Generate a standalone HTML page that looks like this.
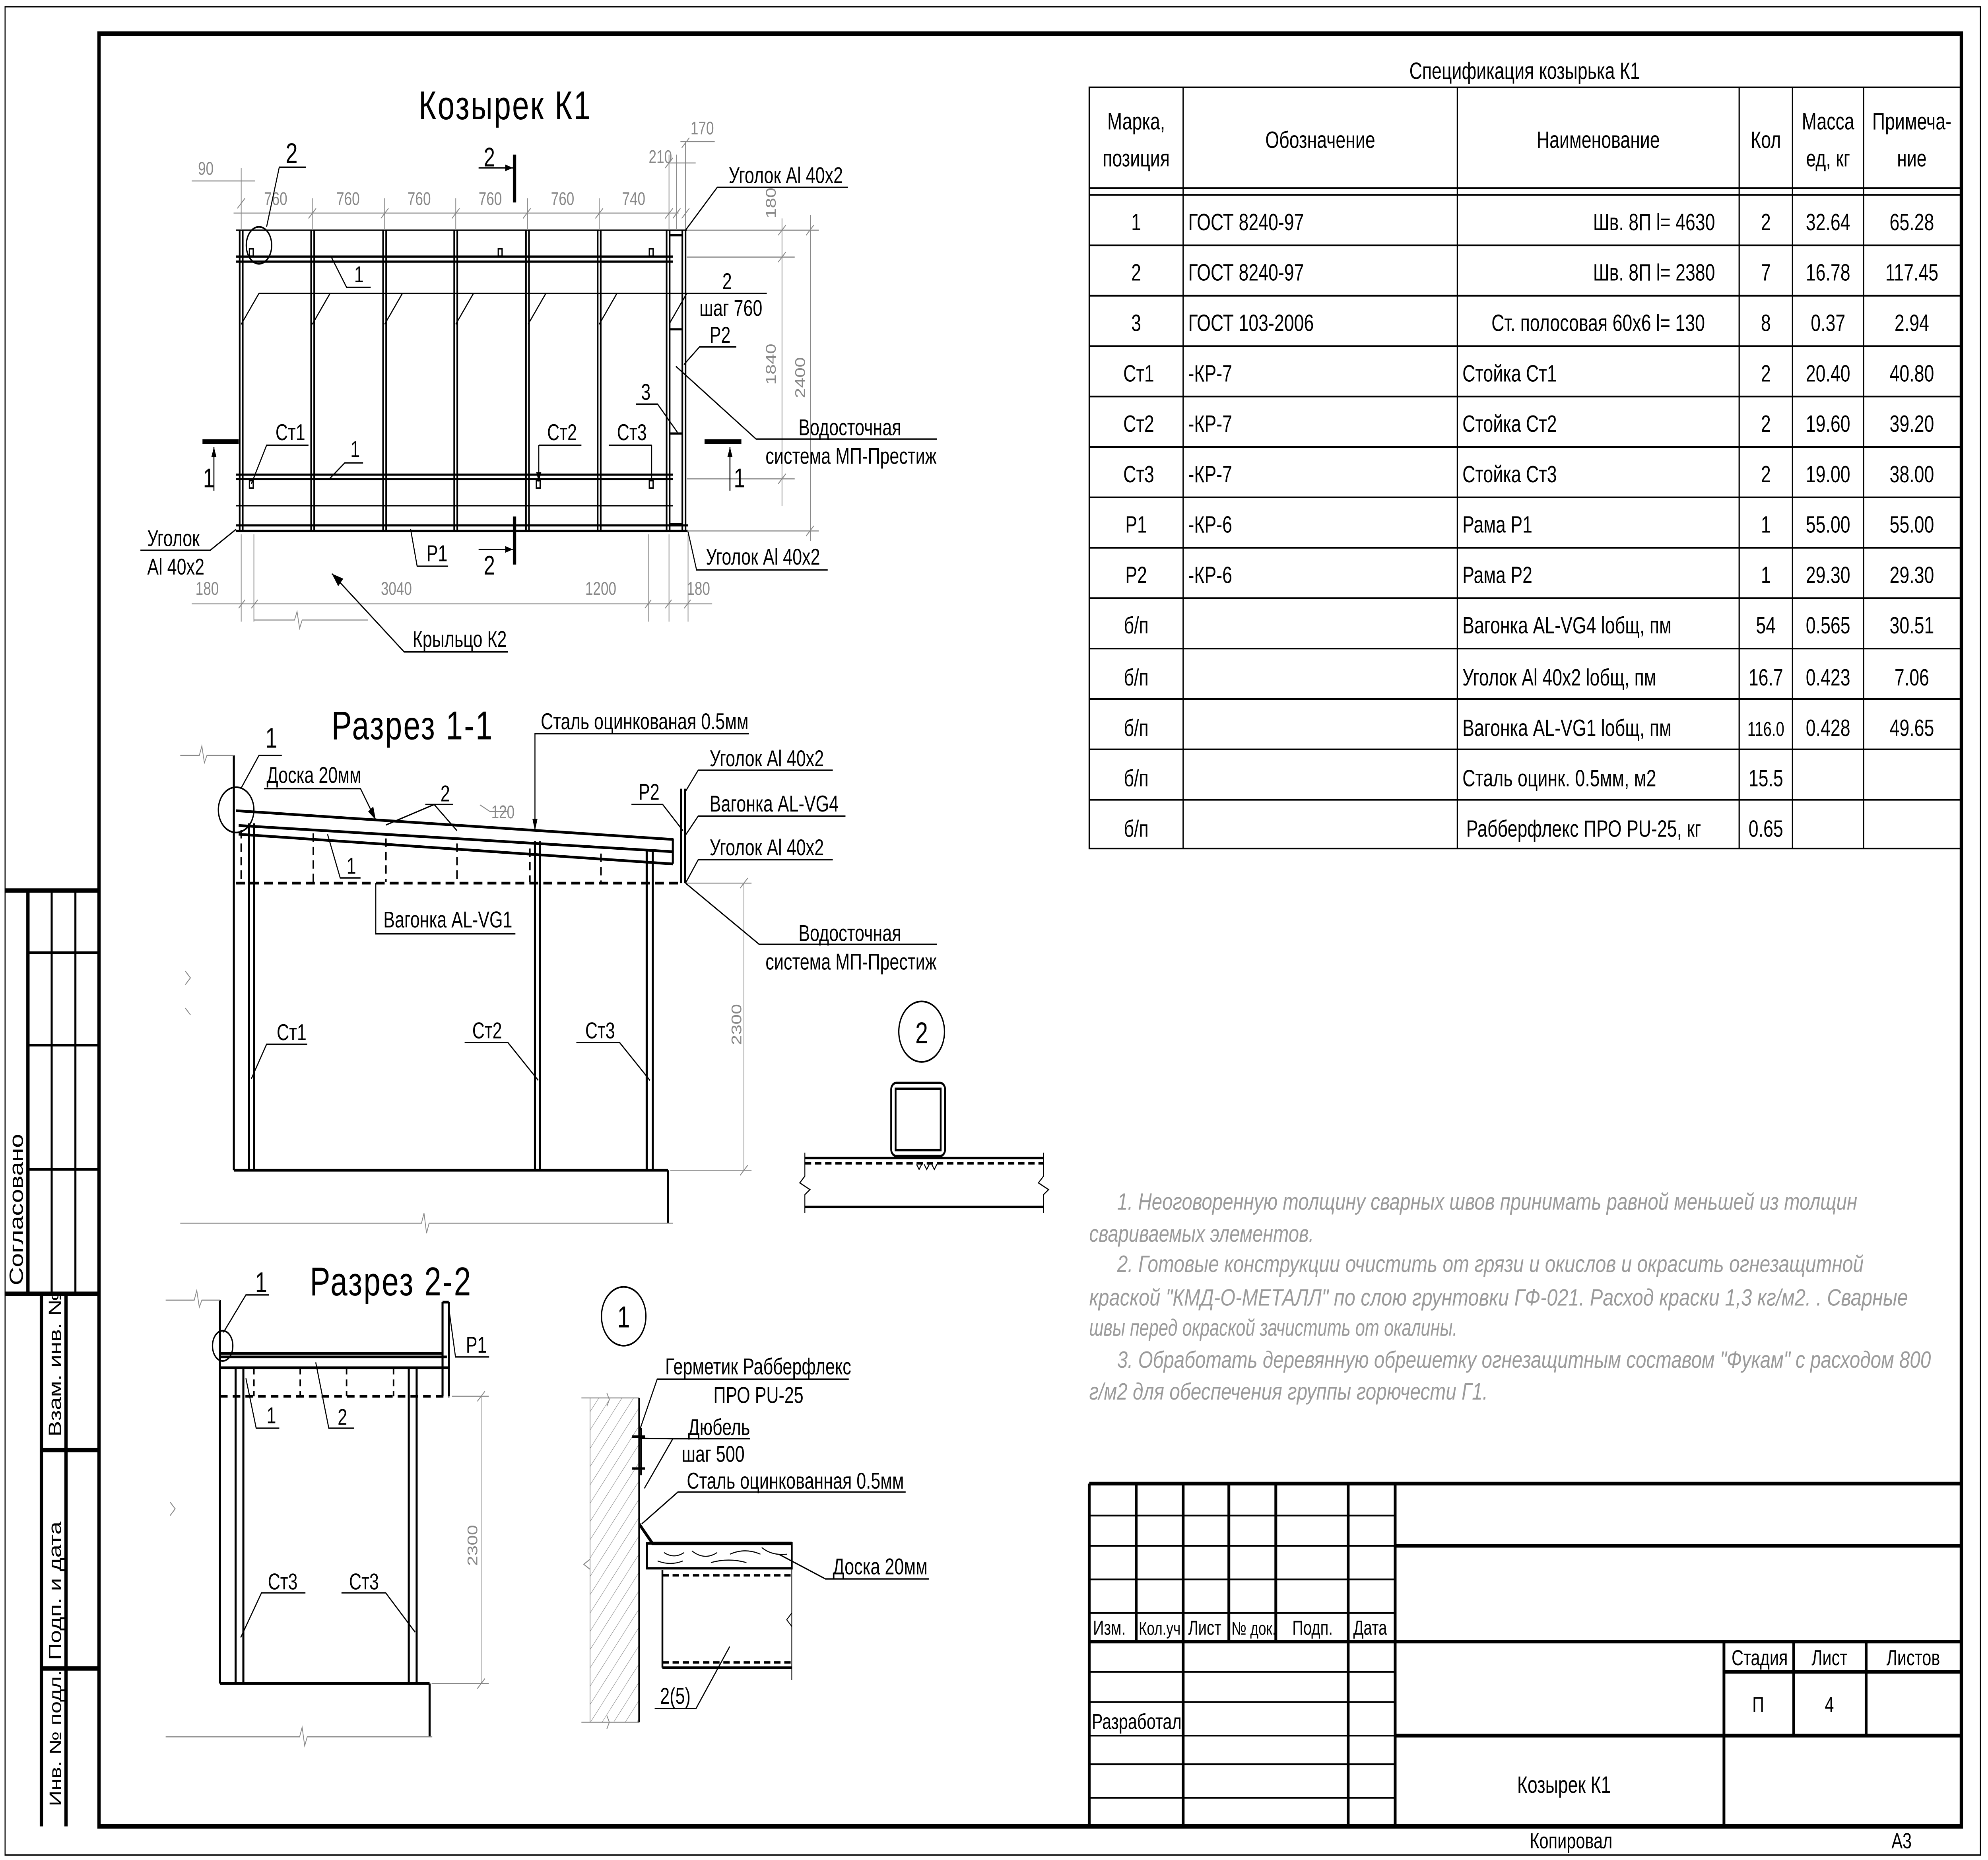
<!DOCTYPE html>
<html><head><meta charset="utf-8"><style>
html,body{margin:0;padding:0;background:#fff;width:100vw;height:100vh;overflow:hidden}
svg{display:block;width:100vw;height:100vh}
text{font-family:"Liberation Sans Narrow","Liberation Sans","DejaVu Sans",sans-serif;fill:#000}
.t{font-family:"Liberation Sans",sans-serif;font-size:14px}
.d{font-size:11px;fill:#888}
.l{font-size:13.5px}
.n{font-family:"Liberation Sans",sans-serif;font-size:14px;fill:#9a9a9a;font-style:italic}
</style></head><body>
<svg viewBox="0 0 1566 1107" preserveAspectRatio="none" xmlns="http://www.w3.org/2000/svg">
<defs>
<pattern id="h" width="7" height="7" patternUnits="userSpaceOnUse" patternTransform="rotate(40)"><line x1="0" y1="0" x2="0" y2="7" stroke="#888" stroke-width="0.6"/></pattern>
</defs>
<rect x="0" y="0" width="1566" height="1107" fill="#fff"/>
<rect x="4" y="4" width="1556" height="1100" fill="none" stroke="#000" stroke-width="0.8"/>
<g fill="none" stroke="#000" stroke-width="2.6">
<path d="M78 20 H1545 V1087 H78 Z"/>
<path d="M4 530 H78 M22 530 V770 M4 770 H78 M32.6 770 V1087 M52 770 V1087 M32.6 863 H78 M32.6 993 H78"/>
</g>
<g stroke="#000" stroke-width="1.6" fill="none">
<path d="M40.7 530 V770 M59.4 530 V770 M22 567 H78 M22 622 H78 M22 696 H78"/>
</g>
<text transform="translate(18,765) rotate(-90)" font-size="15">Согласовано</text>
<text transform="translate(48,855) rotate(-90)" font-size="14">Взам. инв. №</text>
<text transform="translate(48,988) rotate(-90)" font-size="14">Подп. и дата</text>
<text transform="translate(48,1075) rotate(-90)" font-size="13">Инв. № подл.</text>
<text x="1205" y="1100" font-size="13">Копировал</text>
<text x="1490" y="1100" font-size="13">А3</text>

<!-- Spec table -->
<g stroke="#000" stroke-width="1" fill="none">
<rect x="858" y="52" width="687" height="453"/>
<path d="M858 112 H1545 M858 116 H1545"/>
<path d="M932 52 V505 M1148 52 V505 M1370 52 V505 M1412 52 V505 M1468 52 V505"/>
<path d="M858 146 H1545 M858 176 H1545 M858 206 H1545 M858 236 H1545 M858 266 H1545 M858 296 H1545 M858 326 H1545 M858 356 H1545 M858 386 H1545 M858 416 H1545 M858 446 H1545 M858 476 H1545"/>
</g>
<g>
<text x="1201" y="47" text-anchor="middle" class="t">Спецификация козырька К1</text>
<text x="895" y="77" text-anchor="middle" class="t">Марка,</text>
<text x="895" y="99" text-anchor="middle" class="t">позиция</text>
<text x="1040" y="88" text-anchor="middle" class="t">Обозначение</text>
<text x="1259" y="88" text-anchor="middle" class="t">Наименование</text>
<text x="1391" y="88" text-anchor="middle" class="t">Кол</text>
<text x="1440" y="77" text-anchor="middle" class="t">Масса</text>
<text x="1440" y="99" text-anchor="middle" class="t">ед, кг</text>
<text x="1506" y="77" text-anchor="middle" class="t">Примеча-</text>
<text x="1506" y="99" text-anchor="middle" class="t">ние</text>
</g>
<g>
<text class="t" x="895" y="137" text-anchor="middle">1</text><text class="t" x="936" y="137">ГОСТ 8240-97</text><text class="t" x="1351" y="137" text-anchor="end">Шв. 8П l= 4630</text><text class="t" x="1391" y="137" text-anchor="middle">2</text><text class="t" x="1440" y="137" text-anchor="middle">32.64</text><text class="t" x="1506" y="137" text-anchor="middle">65.28</text>
<text class="t" x="895" y="167" text-anchor="middle">2</text><text class="t" x="936" y="167">ГОСТ 8240-97</text><text class="t" x="1351" y="167" text-anchor="end">Шв. 8П l= 2380</text><text class="t" x="1391" y="167" text-anchor="middle">7</text><text class="t" x="1440" y="167" text-anchor="middle">16.78</text><text class="t" x="1506" y="167" text-anchor="middle">117.45</text>
<text class="t" x="895" y="197" text-anchor="middle">3</text><text class="t" x="936" y="197">ГОСТ 103-2006</text><text class="t" x="1343" y="197" text-anchor="end">Ст. полосовая 60х6 l= 130</text><text class="t" x="1391" y="197" text-anchor="middle">8</text><text class="t" x="1440" y="197" text-anchor="middle">0.37</text><text class="t" x="1506" y="197" text-anchor="middle">2.94</text>
<text class="t" x="897" y="227" text-anchor="middle">Ст1</text><text class="t" x="936" y="227">-КР-7</text><text class="t" x="1152" y="227">Стойка Ст1</text><text class="t" x="1391" y="227" text-anchor="middle">2</text><text class="t" x="1440" y="227" text-anchor="middle">20.40</text><text class="t" x="1506" y="227" text-anchor="middle">40.80</text>
<text class="t" x="897" y="257" text-anchor="middle">Ст2</text><text class="t" x="936" y="257">-КР-7</text><text class="t" x="1152" y="257">Стойка Ст2</text><text class="t" x="1391" y="257" text-anchor="middle">2</text><text class="t" x="1440" y="257" text-anchor="middle">19.60</text><text class="t" x="1506" y="257" text-anchor="middle">39.20</text>
<text class="t" x="897" y="287" text-anchor="middle">Ст3</text><text class="t" x="936" y="287">-КР-7</text><text class="t" x="1152" y="287">Стойка Ст3</text><text class="t" x="1391" y="287" text-anchor="middle">2</text><text class="t" x="1440" y="287" text-anchor="middle">19.00</text><text class="t" x="1506" y="287" text-anchor="middle">38.00</text>
<text class="t" x="895" y="317" text-anchor="middle">Р1</text><text class="t" x="936" y="317">-КР-6</text><text class="t" x="1152" y="317">Рама Р1</text><text class="t" x="1391" y="317" text-anchor="middle">1</text><text class="t" x="1440" y="317" text-anchor="middle">55.00</text><text class="t" x="1506" y="317" text-anchor="middle">55.00</text>
<text class="t" x="895" y="347" text-anchor="middle">Р2</text><text class="t" x="936" y="347">-КР-6</text><text class="t" x="1152" y="347">Рама Р2</text><text class="t" x="1391" y="347" text-anchor="middle">1</text><text class="t" x="1440" y="347" text-anchor="middle">29.30</text><text class="t" x="1506" y="347" text-anchor="middle">29.30</text>
<text class="t" x="895" y="377" text-anchor="middle">б/п</text><text class="t" x="1152" y="377">Вагонка AL-VG4 lобщ, пм</text><text class="t" x="1391" y="377" text-anchor="middle">54</text><text class="t" x="1440" y="377" text-anchor="middle">0.565</text><text class="t" x="1506" y="377" text-anchor="middle">30.51</text>
<text class="t" x="895" y="408" text-anchor="middle">б/п</text><text class="t" x="1152" y="408">Уголок Al 40х2 lобщ, пм</text><text class="t" x="1391" y="408" text-anchor="middle">16.7</text><text class="t" x="1440" y="408" text-anchor="middle">0.423</text><text class="t" x="1506" y="408" text-anchor="middle">7.06</text>
<text class="t" x="895" y="438" text-anchor="middle">б/п</text><text class="t" x="1152" y="438">Вагонка AL-VG1 lобщ, пм</text><text x="1391" y="438" text-anchor="middle" style="font-family:'Liberation Sans';font-size:12px">116.0</text><text class="t" x="1440" y="438" text-anchor="middle">0.428</text><text class="t" x="1506" y="438" text-anchor="middle">49.65</text>
<text class="t" x="895" y="468" text-anchor="middle">б/п</text><text class="t" x="1152" y="468">Сталь оцинк. 0.5мм, м2</text><text class="t" x="1391" y="468" text-anchor="middle">15.5</text>
<text class="t" x="895" y="498" text-anchor="middle">б/п</text><text class="t" x="1155" y="498">Рабберфлекс ПРО PU-25, кг</text><text class="t" x="1391" y="498" text-anchor="middle">0.65</text>
</g>

<!-- Notes -->
<text class="n" x="880" y="720" textLength="583" lengthAdjust="spacingAndGlyphs">1. Неоговоренную толщину сварных швов принимать равной  меньшей из толщин</text>
<text class="n" x="858" y="739" textLength="177" lengthAdjust="spacingAndGlyphs">свариваемых элементов.</text>
<text class="n" x="880" y="757" textLength="588" lengthAdjust="spacingAndGlyphs">2. Готовые конструкции очистить от грязи и окислов и окрасить огнезащитной</text>
<text class="n" x="858" y="777" textLength="645" lengthAdjust="spacingAndGlyphs">краской "КМД-О-МЕТАЛЛ" по слою грунтовки ГФ-021. Расход краски 1,3 кг/м2. . Сварные</text>
<text class="n" x="858" y="795" textLength="290" lengthAdjust="spacingAndGlyphs">швы перед окраской зачистить от окалины.</text>
<text class="n" x="880" y="814" textLength="641" lengthAdjust="spacingAndGlyphs">3. Обработать деревянную обрешетку огнезащитным составом "Фукам" с расходом 800</text>
<text class="n" x="858" y="833" textLength="314" lengthAdjust="spacingAndGlyphs">г/м2 для обеспечения группы горючести Г1.</text>

<!-- Title block -->
<g stroke="#000" stroke-width="2.2" fill="none">
<path d="M858 883 H1545 M1099 883 V1087 M858 883 V1087 M858 977 H1545 M1099 920 H1545 M1358 977 V1087 M1413 977 V1033 M1470 977 V1033 M1358 995 H1545 M1099 1033 H1545"/>
<path d="M895 883 V977 M932 883 V1087 M968 883 V977 M1005 883 V977 M1062 883 V1087"/>
</g>
<g stroke="#000" stroke-width="1" fill="none">
<path d="M858 902 H1099 M858 920 H1099 M858 940 H1099 M858 960 H1099 M858 995 H1099 M858 1013 H1099 M858 1033 H1099 M858 1050 H1099 M858 1070 H1099"/>
</g>
<g font-size="12">
<text x="861" y="973">Изм.</text><text x="897" y="973" font-size="11">Кол.уч.</text><text x="936" y="973">Лист</text><text x="970" y="973" font-size="11">№ док.</text><text x="1018" y="973">Подп.</text><text x="1066" y="973">Дата</text>
<text x="860" y="1029" font-size="13">Разработал</text>
<text x="1364" y="991" font-size="13">Стадия</text><text x="1427" y="991" font-size="13">Лист</text><text x="1486" y="991" font-size="13">Листов</text>
<text x="1385" y="1019" font-size="13" text-anchor="middle">П</text><text x="1441" y="1019" font-size="13" text-anchor="middle">4</text>
<text x="1232" y="1067" class="t" text-anchor="middle">Козырек К1</text>
</g>

<!-- ===== PLAN ===== -->
<text x="398" y="71" font-size="24" text-anchor="middle" style="font-family:'Liberation Sans',sans-serif;letter-spacing:1px">Козырек К1</text>
<g stroke="#000" stroke-width="0.8" fill="none">
<path d="M186 137 H541 M186 301 H530"/>
</g>
<g stroke="#000" stroke-width="1.3" fill="none">
<path d="M186 152.7 H530 M186 155.7 H530 M186 282.5 H530 M186 285.2 H530 M186 312.7 H542 M186 316 H542"/>
<path d="M188.8 137 V316 M191.2 137 V316 M245.1 137 V316 M247.5 137 V316 M301.8 137 V316 M304.2 137 V316 M357.8 137 V316 M360.2 137 V316 M414.3 137 V316 M416.7 137 V316 M470.8 137 V316 M473.2 137 V316 M525.1 137 V316 M527.5 137 V316 M537.5 137 V316 M540 137 V316"/>
<path d="M527 140 H538 M527 196 H538 M527 258 H538 M527 312 H538"/>
</g>
<g fill="none" stroke="#000" stroke-width="1"><rect x="196.5" y="148" width="3" height="4.5"/><rect x="392.5" y="148" width="3" height="4.5"/><rect x="511.5" y="148" width="3" height="4.5"/><rect x="196.5" y="286" width="3" height="4.5"/><rect x="422.5" y="286" width="3" height="4.5"/><rect x="511.5" y="286" width="3" height="4.5"/></g>
<ellipse cx="204" cy="146" rx="10" ry="11" fill="none" stroke="#000" stroke-width="1"/>
<g stroke="#888" stroke-width="0.6" fill="none">
<path d="M151 107.7 H201 M190 100 V135 M184 126.8 H534.5 M190 118 V137 M246 118 V137 M303 118 V137 M359 118 V137 M415.5 118 V137 M472 118 V137 M527 92 V137 M533 92 V137 M540 84 V137 M527 97 H548 M536 84.3 H563"/>
<path d="M187 124 l6 -6 M243 130 l6 -6 M300 130 l6 -6 M356 130 l6 -6 M412 130 l6 -6 M469 130 l6 -6 M524 130 l6 -6 M530 130 l6 -6 M537 130 l6 -6 M524 100 l6 -6 M537 88 l6 -6"/>
<path d="M151 359.4 H561 M190 318 V370 M200 318 V370 M511 318 V370 M527 318 V370 M542 318 V370 M188 362 l5 -5 M198 362 l5 -5 M508 362 l5 -5 M524 362 l5 -5 M539 362 l5 -5"/>
<path d="M200 369 H232 L234 364 L236 374 L238 369 H290"/>
<path d="M541 137 H645 M541 153 H626 M541 316 H645 M541 285 H626 M616 130 V301 M638.4 128 V322 M613 140 l6 -6 M613 156 l6 -6 M613 288 l6 -6 M635 140 l6 -6 M635 319 l6 -6"/>
</g>
<g><text x="156" y="104" class="d">90</text><text x="208" y="122" class="d">760</text><text x="265" y="122" class="d">760</text><text x="321" y="122" class="d">760</text><text x="377" y="122" class="d">760</text><text x="434" y="122" class="d">760</text><text x="490" y="122" class="d">740</text><text x="511" y="97" class="d">210</text><text x="544" y="80" class="d">170</text>
<text x="154" y="354" class="d">180</text><text x="300" y="354" class="d">3040</text><text x="461" y="354" class="d">1200</text><text x="541" y="354" class="d">180</text>
<text class="d" transform="translate(611,130) rotate(-90)">180</text><text class="d" transform="translate(611,229) rotate(-90)">1840</text><text class="d" transform="translate(634,237) rotate(-90)">2400</text></g>
<g stroke="#000" stroke-width="0.8" fill="none">
<path d="M210 135 L220 99.5 H241"/>
<path d="M261 153 L273 171 H292"/>
<path d="M604 174.6 H204 M204 174.6 L190 193 M260 174.6 L246 193 M317 174.6 L303 193 M373 174.6 L359 193 M430 174.6 L416 193 M486 174.6 L472 193 M541 174.6 L527 193"/>
<path d="M538.7 217 L551 206.5 H580"/>
<path d="M198 288 L210 265 H243"/>
<path d="M260 284.6 L271.6 275.5 H286"/>
<path d="M424.4 265 V286 M424.4 265 H458 M513.3 265 V286 M479.5 265 H513.3"/>
<path d="M533.7 257.4 L518 240.5 H501"/>
<path d="M540 137 L565 111.5 H668"/>
<path d="M532.4 218 L595.6 261.3 H738"/>
<path d="M186 315 L165.6 327.5 H110.6"/>
<path d="M542 316.5 L548.7 339.2 H652"/>
<path d="M323.4 314.8 L328.6 337 H353"/>
<path d="M261.4 341.4 L318.4 388 H400"/>
</g>
<path d="M261.4 341.4 l9 3 l-4 4.5 z" fill="#000"/>
<path d="M424.4 287 l-2 -6 h4 z M168.5 266 l-2 6 h4 z M575 266 l-2 6 h4 z M404 99.9 l-6 -2 v4 z M404 327 l-6 -2 v4 z" fill="#000"/>
<g stroke="#000" stroke-width="2.6"><path d="M405.3 92 V120.5 M405.3 307.4 V336 M159.5 262.8 H188 M555 262.8 H584"/></g>
<g stroke="#000" stroke-width="0.8"><path d="M168.5 266 V292 M575 266 V292 M377 99.9 H404 M377 327 H404"/></g>
<g><text x="225" y="97" font-size="17">2</text><text x="279" y="168" class="l">1</text><text x="217" y="262" class="l">Ст1</text><text x="276" y="272" class="l">1</text><text x="431" y="262" class="l">Ст2</text><text x="486" y="262" class="l">Ст3</text><text x="505" y="238" class="l">3</text>
<text x="569" y="172" class="l">2</text><text x="551" y="188" class="l">шаг 760</text><text x="559" y="204" class="l">Р2</text>
<text x="574" y="109" class="l">Уголок Al 40х2</text><text x="629" y="259" class="l">Водосточная</text><text x="603" y="276" class="l">система МП-Престиж</text>
<text x="116" y="325" class="l">Уголок</text><text x="116" y="342" class="l">Al 40х2</text><text x="556" y="336" class="l">Уголок Al 40х2</text><text x="336" y="334" class="l">Р1</text><text x="325" y="385" class="l">Крыльцо К2</text>
<text x="381" y="99" font-size="16">2</text><text x="381" y="342" font-size="16">2</text><text x="160" y="290" font-size="16">1</text><text x="578" y="290" font-size="16">1</text></g>

<!-- ===== Section 1-1 ===== -->
<text x="325" y="440" font-size="24" text-anchor="middle" style="font-family:'Liberation Sans',sans-serif;letter-spacing:1px">Разрез 1-1</text>
<g stroke="#000" stroke-width="1.6" fill="none">
<path d="M186 482.5 L530 499.6 M188 491.3 L530 506.9 M188 496.5 L530 514.2 M530 499 V514"/>
<path d="M184.2 449.6 V696.5 M196.2 490 V696.5 M200.2 490 V696.5 M421.4 500.7 V696.5 M425.4 500.7 V696.5 M509.4 505.9 V696.5 M514.2 505.9 V696.5 M184.2 696.5 H526.2 M526.2 696.5 V728"/>
<path d="M536.5 469.4 V525.6 M539.6 469.4 V525.6"/>
<path d="M186 525.6 H538" stroke-dasharray="7,4"/>
<path d="M190 494 V525 M246.8 496 V525 M304 499 V525 M360 502 V525 M417.4 505 V525 M473.4 508 V525" stroke-dasharray="5,3" stroke-width="1.2"/>
</g>
<g stroke="#888" stroke-width="0.6" fill="none">
<path d="M142 449.6 H157 L159 444 L161 454 L163 449.6 H184"/>
<path d="M142 728 H332 L334 722 L336 734 L338 728 H530"/>
<path d="M146 586 l4 -4 l-4 -4 M146 600 l4 4"/>
<path d="M586 525.6 V696.5 M583 528.6 l6 -6 M583 699.5 l6 -6 M540 525.6 H592 M528 696.5 H592"/>
<path d="M378 479 l8 4 h14"/>
</g>
<text class="d" transform="translate(584,622) rotate(-90)">2300</text><text class="d" x="387" y="487">120</text>
<ellipse cx="186" cy="482" rx="14" ry="13.5" fill="none" stroke="#000" stroke-width="1"/>
<g stroke="#000" stroke-width="0.8" fill="none">
<path d="M190 469 L204 449.6 H222"/>
<path d="M296 488 L284 469.4 H208"/>
<path d="M304 491 L342 478.8 L360 494.4 M335 478.8 H357"/>
<path d="M258 496.5 L268 522.5 H284"/>
<path d="M296 525.6 V555.8 H406"/>
<path d="M421.4 494.4 V436.7 H590"/>
<path d="M538 494.4 L522 478.8 H497.4"/>
<path d="M540 471 L550 458.4 H656 M540 497 L550 485.7 H666 M540 525.6 L550 511.7 H656"/>
<path d="M540 525.6 L598 562 H738"/>
<path d="M198 642 L210 621.5 H242 M424 643 L400 620.4 H366 M512 643 L488 620.4 H454"/>
</g>
<path d="M296 488 l-2 -8 l-4 3 z M421.4 494.4 l-2 -7 h4 z" fill="#000"/>
<g><text x="209" y="445" font-size="17">1</text><text x="210" y="466" class="l">Доска 20мм</text><text x="347" y="477" class="l">2</text><text x="273" y="520" class="l">1</text><text x="302" y="552" class="l">Вагонка AL-VG1</text><text x="426" y="434" class="l">Сталь оцинкованая 0.5мм</text>
<text x="503" y="476" class="l">Р2</text><text x="559" y="456" class="l">Уголок Al 40х2</text><text x="559" y="483" class="l">Вагонка AL-VG4</text><text x="559" y="509" class="l">Уголок Al 40х2</text>
<text x="629" y="560" class="l">Водосточная</text><text x="603" y="577" class="l">система МП-Престиж</text>
<text x="218" y="619" class="l">Ст1</text><text x="372" y="618" class="l">Ст2</text><text x="461" y="618" class="l">Ст3</text></g>

<!-- ===== Node 2 ===== -->
<circle cx="726" cy="614" r="18" fill="none" stroke="#000" stroke-width="1"/>
<text x="726" y="621" font-size="18" text-anchor="middle" style="font-family:'Liberation Sans'">2</text>
<g stroke="#000" stroke-width="1.4" fill="none">
<rect x="702" y="644.5" width="42.5" height="43.5" rx="4"/><rect x="705.5" y="648" width="35.5" height="36.5"/>
<path d="M634 689.2 H822 M634 718.3 H822"/>
<path d="M634 692.4 H822" stroke-dasharray="5,3"/>
</g>
<g stroke="#000" stroke-width="0.7" fill="none"><path d="M634 686 V700 L630 704 L638 708 L634 711 V722 M822 686 V700 L818 704 L826 708 L822 711 V722 M722 693 l2 3 l2 -3 M728 693 l2 3 l2 -3 M734 693 l2 3 l2 -3"/></g>

<!-- ===== Section 2-2 ===== -->
<text x="308" y="771" font-size="24" text-anchor="middle" style="font-family:'Liberation Sans',sans-serif;letter-spacing:1px">Разрез 2-2</text>
<g stroke="#000" stroke-width="1.6" fill="none">
<path d="M173.3 773.8 V1002 M173.3 805.5 H348.6 M173.3 807.6 H352 M173.3 814 H354 M348.6 775 V831 M353.5 775 V831 M348.6 775 H353.5"/>
<path d="M185.6 814 V1002 M191.7 814 V1002 M322 814 V1002 M328.2 814 V1002 M173.3 1002 H338.4 M338.4 1002 V1033.7"/>
<path d="M173.3 831 H354" stroke-dasharray="6,4"/>
<path d="M200 814 V831 M236.5 814 V831 M273 814 V831 M310 814 V831" stroke-dasharray="4,3" stroke-width="1.2"/>
</g>
<g stroke="#888" stroke-width="0.6" fill="none">
<path d="M130.5 773.8 H153 L155 768 L157 778 L159 773.8 H173.3"/>
<path d="M130.5 1033.7 H236 L238 1028 L240 1039 L242 1033.7 H340.5"/>
<path d="M134 902 l4 -4 l-4 -4"/>
<path d="M379 831 V1002 M376 834 l6 -6 M376 1005 l6 -6 M356 831 H385 M340 1002 H385"/>
</g>
<text class="d" transform="translate(376,932) rotate(-90)">2300</text>
<ellipse cx="175.4" cy="801" rx="8" ry="9" fill="none" stroke="#000" stroke-width="1"/>
<g stroke="#000" stroke-width="0.8" fill="none">
<path d="M176 793 L193.7 770.7 H212 M193.7 820.3 L201.8 850 H220 M248.7 810.8 L259 850 H279 M354 781 L358.8 807.6 H385.3 M189.6 974.6 L206 948 H240.6 M327 971.4 L303.8 948 H269"/>
</g>
<g><text x="201" y="769" font-size="17">1</text><text x="367" y="805" class="l">Р1</text><text x="210" y="847" class="l">1</text><text x="266" y="848" class="l">2</text><text x="211" y="946" class="l">Ст3</text><text x="275" y="946" class="l">Ст3</text></g>

<!-- ===== Node 1 ===== -->
<circle cx="491.3" cy="783.4" r="17.5" fill="none" stroke="#000" stroke-width="1"/>
<text x="491.3" y="790" font-size="18" text-anchor="middle" style="font-family:'Liberation Sans'">1</text>
<rect x="464.8" y="832" width="38.7" height="193" fill="url(#h)"/>
<g stroke="#888" stroke-width="0.6" fill="none"><path d="M464.8 832 V1025 M458 832 H503.5 M458 1025 H503.5 M478 829 l2 4 l-2 4 M478 1021 l2 4 l-2 4 M464.8 928 l-5 3 l5 3"/></g>
<g stroke="#000" stroke-width="1.4" fill="none">
<path d="M503.5 832 V1025"/>
<rect x="509.6" y="918.6" width="114.1" height="14.8"/>
<path d="M503.5 907 L514 918.6 H623.7" stroke-width="2"/>
<path d="M521.8 934.4 V992.5 M521.8 992.5 H623.7"/>
<path d="M521.8 937.6 H623.7 M521.8 989.4 H623.7" stroke-dasharray="5,3"/>
<path d="M498 855 H508 M498 874 H508 M505 850 V878"/>
</g>
<g stroke="#000" stroke-width="0.6" fill="none"><path d="M523 924 q8 4 16 0 M545 923 q10 6 20 1 M575 925 q12 -4 24 0 M600 921 q8 5 20 4 M518 929 q10 3 20 0 M560 930 q14 -3 28 0"/>
<path d="M623.7 933 V1000 M623.7 960 l-4 4 l4 4"/></g>
<g stroke="#000" stroke-width="0.8" fill="none">
<path d="M503.5 852 L517.7 820.8 H668.6 M503.5 856 L530 856.3 H591 M507.6 885.8 L530 856.3 M505.5 907 L534 888 H713.4 M613.5 925 L650.2 939.7 H731.7 M574.8 980 L548.3 1016.8 H515.7"/>
</g>
<g><text x="524" y="818" class="l">Герметик Рабберфлекс</text><text x="562" y="835" class="l">ПРО PU-25</text><text x="542" y="854" class="l">Дюбель</text><text x="537" y="870" class="l">шаг 500</text><text x="541" y="886" class="l">Сталь оцинкованная 0.5мм</text><text x="656" y="937" class="l">Доска 20мм</text><text x="520" y="1014" class="l">2(5)</text></g>
</svg>
</body></html>
